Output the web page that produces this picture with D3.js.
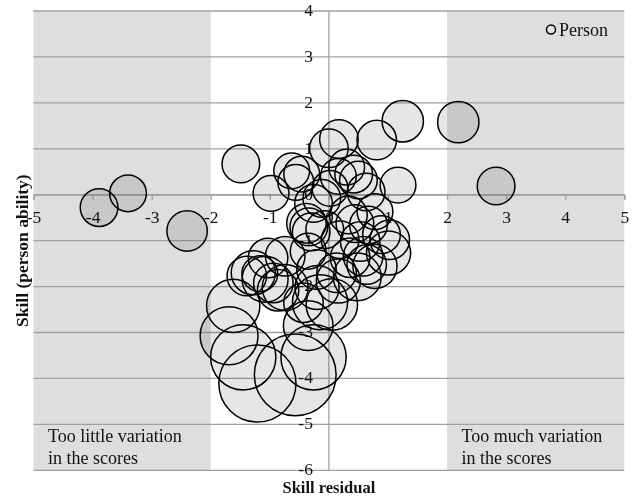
<!DOCTYPE html>
<html>
<head>
<meta charset="utf-8">
<script src="https://cdn.jsdelivr.net/npm/d3@7"></script>
<style>
  html, body { margin: 0; padding: 0; background: #fff; }
  svg { display: block; }
  text { font-family: "Liberation Serif", "Times New Roman", serif; fill: #111; }
</style>
</head>
<body>
<svg id="chart" width="635" height="497"></svg>
<script>
// Person estimates: skill residual (x), skill / person ability (y), standard error (bubble radius, logits)
const residual = [
  -3.89, -3.40, -2.40, -1.49, 1.25, 2.19, 2.83, 0.81, 0.17, 0.00,
  1.17, -0.98, -0.63, -0.46, -0.56, 0.30, 0.42, 0.50, 0.63, 0.16,
  -0.26, -0.12, 0.02, 0.78, 0.33, -0.38, -0.34, -0.30, 0.44, 0.67,
  0.89, 1.03, 0.53, -0.07, 0.19, 0.36, 0.64, 0.58, 0.78, 1.01,
  0.48, 0.13, 0.16, -0.21, -0.20, -0.35, -0.74, -1.39, -1.17, -0.94,
  -0.86, -1.28, -1.08, -0.43, 0.05, -1.69, -1.45, -1.21, -0.57, -0.26,
  -1.62, -0.35, -0.15, -0.74, -1.03
];
const ability = [
  -0.28, 0.03, -0.79, 0.67, 1.60, 1.58, 0.19, 1.19, 1.21, 1.01,
  0.21, 0.03, 0.52, 0.45, 0.27, 0.60, 0.45, 0.32, 0.06, 0.40,
  -0.19, -0.08, 0.14, -0.37, -0.44, -0.62, -0.70, -0.81, -0.63, -0.66,
  -0.87, -0.98, -1.02, -0.76, -0.98, -1.37, -1.52, -1.34, -1.56, -1.27,
  -1.79, -1.70, -1.88, -1.63, -2.02, -1.23, -1.34, -1.77, -1.72, -1.92,
  -2.08, -1.70, -1.84, -2.35, -2.39, -3.07, -3.54, -4.11, -3.92, -3.54,
  -2.42, -2.85, -2.34, -2.02, -1.38
];
const stdError = [
  0.41, 0.40, 0.44, 0.41, 0.45, 0.45, 0.41, 0.43, 0.42, 0.42,
  0.39, 0.39, 0.39, 0.39, 0.39, 0.39, 0.41, 0.41, 0.41, 0.39,
  0.41, 0.41, 0.39, 0.39, 0.41, 0.43, 0.41, 0.41, 0.41, 0.41,
  0.41, 0.43, 0.43, 0.41, 0.41, 0.43, 0.43, 0.43, 0.48, 0.48,
  0.52, 0.43, 0.48, 0.43, 0.48, 0.39, 0.43, 0.43, 0.39, 0.43,
  0.45, 0.48, 0.50, 0.43, 0.56, 0.63, 0.71, 0.84, 0.89, 0.71,
  0.58, 0.54, 0.60, 0.50, 0.43
];

// Axis ticks and shaded misfit bands
const xTicks = [-5, -4, -3, -2, -1, 0, 1, 2, 3, 4, 5];
const yTicks = [-6, -5, -4, -3, -2, -1, 0, 1, 2, 3, 4];
const bands = [
  { from: -5, to: -2, lines: ["Too little variation", "in the scores"] },
  { from: 2, to: 5, lines: ["Too much variation", "in the scores"] }
];
const legendLabel = "Person";
const xTitle = "Skill residual";
const yTitle = "Skill (person ability)";

const persons = residual.map((r, i) => ({ x: r, y: ability[i], se: stdError[i] }));

const svg = d3.select("#chart");
const x = d3.scaleLinear().domain([-5, 5]).range([33.5, 624.3]);
const y = d3.scaleLinear().domain([-6, 4]).range([470.3, 11]);
const rad = d => y(0) - y(d);
const fmt = d => String(d);   // plain hyphen-minus labels

const gridColor = "#a0a0a0";
const fontSize = "17.5px";

// shaded bands
svg.append("g").selectAll("rect").data(bands).join("rect")
  .attr("x", d => x(d.from)).attr("width", d => x(d.to) - x(d.from))
  .attr("y", y(4)).attr("height", y(-6) - y(4))
  .attr("fill", "#dedede");

// horizontal gridlines
svg.append("g").selectAll("line").data(yTicks).join("line")
  .attr("x1", x(-5)).attr("x2", x(5))
  .attr("y1", d => y(d)).attr("y2", d => y(d))
  .attr("stroke", gridColor).attr("stroke-width", 1.3);

// vertical axis line at x = 0
svg.append("line")
  .attr("x1", x(0)).attr("x2", x(0)).attr("y1", y(4)).attr("y2", y(-6))
  .attr("stroke", gridColor).attr("stroke-width", 1.3);

// x axis along y = 0
const xAxis = svg.append("g")
  .attr("transform", `translate(0,${y(0)})`)
  .call(d3.axisBottom(x).tickValues(xTicks).tickSize(5).tickPadding(11).tickFormat(fmt));
xAxis.select(".domain").attr("stroke", gridColor).attr("stroke-width", 1.3);
xAxis.selectAll(".tick line").attr("stroke", gridColor).attr("stroke-width", 1.3);
xAxis.selectAll(".tick text")
  .style("font-family", "Liberation Serif, serif").style("font-size", fontSize).attr("fill", "#111");

// y axis labels beside the x = 0 line
const yAxis = svg.append("g")
  .attr("transform", `translate(${x(0)},0)`)
  .call(d3.axisLeft(y).tickValues(yTicks).tickSize(0).tickPadding(16).tickFormat(fmt));
yAxis.select(".domain").remove();
yAxis.selectAll(".tick text")
  .attr("dy", "0.25em")
  .style("font-family", "Liberation Serif, serif").style("font-size", fontSize).attr("fill", "#111");

// bubble fills, multiplied onto the background so lines and bands show through
const fills = svg.append("g").style("mix-blend-mode", "multiply");
fills.selectAll("circle").data(persons).join("circle")
  .attr("cx", d => x(d.x)).attr("cy", d => y(d.y)).attr("r", d => rad(d.se))
  .attr("fill", "#e6e6e6");

// bubble outlines
svg.append("g").selectAll("circle").data(persons).join("circle")
  .attr("cx", d => x(d.x)).attr("cy", d => y(d.y)).attr("r", d => rad(d.se))
  .attr("fill", "none").attr("stroke", "#000").attr("stroke-width", 1.5);

// band captions
bands.forEach(b => {
  const t = svg.append("text")
    .attr("x", x(b.from) + 14.5)
    .attr("y", y(-5) + 17.5)
    .style("font-size", "18px");
  b.lines.forEach((ln, i) => t.append("tspan").attr("x", x(b.from) + 14.5).attr("dy", i ? 22.5 : 0).text(ln));
});

// legend
svg.append("circle").attr("cx", 551).attr("cy", 29.5).attr("r", 4.5)
  .attr("fill", "#e6e6e6").attr("stroke", "#000").attr("stroke-width", 1.5);
svg.append("text").attr("x", 559).attr("y", 36).style("font-size", "18px").text(legendLabel);

// axis titles
svg.append("text").attr("x", x(0)).attr("y", 493.4).attr("text-anchor", "middle")
  .style("font-size", "16.5px").style("font-weight", "bold").text(xTitle);
svg.append("text").attr("transform", `translate(28,${(y(4) + y(-6)) / 2 + 10}) rotate(-90)`)
  .attr("text-anchor", "middle")
  .style("font-size", fontSize).style("font-weight", "bold").text(yTitle);
</script>
</body>
</html>
